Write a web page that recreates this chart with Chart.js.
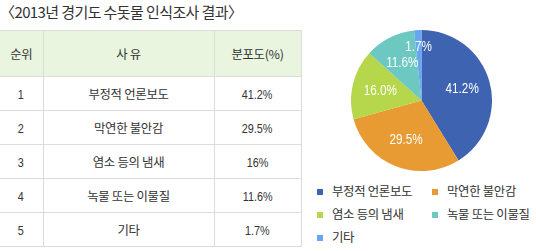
<!DOCTYPE html>
<html><head><meta charset="utf-8">
<script src="https://cdn.jsdelivr.net/npm/chart.js@4"></script>
<style>
html,body{margin:0;padding:0;background:#fff;}
#wrap{position:relative;width:536px;height:251px;overflow:hidden;font-family:"Noto Sans CJK KR","Noto Sans",sans-serif;color:#333;}
#title{position:absolute;left:0;top:3px;font-size:15px;line-height:18px;letter-spacing:-0.6px;color:#333;white-space:nowrap;}
table{position:absolute;left:0;top:30px;border-collapse:collapse;table-layout:fixed;width:301px;}
td,th{border:1px solid #dcdcdc;text-align:center;font-weight:normal;font-size:12.4px;padding:0;color:#333;letter-spacing:-0.3px;}
th{background:#eaf5e0;height:45px;}
td{height:33px;}
tr>*:first-child{border-left:none;}
.num span{display:inline-block;font-family:"Liberation Sans",sans-serif;font-size:13.5px;letter-spacing:0;transform:scaleX(0.8);}
#chartBox{position:absolute;left:351px;top:30px;width:141px;height:141px;}
#legend{position:absolute;left:317px;top:183px;width:219px;font-size:12.4px;letter-spacing:-0.3px;}
.li{position:absolute;white-space:nowrap;line-height:16px;}
.li i{display:inline-block;width:6px;height:6px;margin-right:9px;vertical-align:1px;}
</style></head>
<body><div id="wrap">
<div id="title">〈2013년 경기도 수돗물 인식조사 결과〉</div>
<table id="tbl"></table>
<div id="chartBox"><canvas id="c"></canvas></div>
<div id="legend"></div>
</div>
<script>
const headers = ["순위", "사 유", "분포도(%)"];
const ranks = [1, 2, 3, 4, 5];
const categories = ["부정적 언론보도", "막연한 불안감", "염소 등의 냄새", "녹물 또는 이물질", "기타"];
const tableValues = ["41.2%", "29.5%", "16%", "11.6%", "1.7%"];
const values = [41.2, 29.5, 16.0, 11.6, 1.7];
const colors = ["#3e63b1", "#e89b32", "#b6d64b", "#6cc8c1", "#67a6f1"];

// table
const tbl = document.getElementById('tbl');
const cg = document.createElement('colgroup');
[43, 171, 87].forEach(w => { const c = document.createElement('col'); c.style.width = w + 'px'; cg.appendChild(c); });
tbl.appendChild(cg);
const hr = document.createElement('tr');
headers.forEach(h => { const th = document.createElement('th'); th.textContent = h; hr.appendChild(th); });
tbl.appendChild(hr);
categories.forEach((cat, i) => {
  const tr = document.createElement('tr');
  [[ranks[i], true], [cat, false], [tableValues[i], true]].forEach(([t, isNum]) => {
    const td = document.createElement('td');
    if (isNum) { td.className = 'num'; const s = document.createElement('span'); s.textContent = t; td.appendChild(s); }
    else td.textContent = t;
    tr.appendChild(td);
  });
  tbl.appendChild(tr);
});

const labelPlugin = {
  id: 'sliceLabels',
  afterDatasetsDraw(chart) {
    const ctx = chart.ctx;
    const meta = chart.getDatasetMeta(0);
    meta.data.forEach((arc, i) => {
      const p = arc.getProps(['x', 'y', 'startAngle', 'endAngle', 'outerRadius'], true);
      const mid = (p.startAngle + p.endAngle) / 2;
      const r = p.outerRadius * (values[i] < 5 ? 0.76 : 0.6);
      const lx = p.x + Math.cos(mid) * r, ly = p.y + Math.sin(mid) * r;
      ctx.save();
      ctx.translate(lx, ly);
      ctx.scale(0.78, 1);
      ctx.fillStyle = '#fff';
      ctx.font = '15px "Liberation Sans",sans-serif';
      ctx.textAlign = 'center';
      ctx.textBaseline = 'middle';
      ctx.fillText(values[i].toFixed(1) + '%', 0, 0);
      ctx.restore();
    });
  }
};

const chart = new Chart(document.getElementById('c'), {
  type: 'pie',
  data: { labels: categories, datasets: [{ data: values, backgroundColor: colors, borderWidth: 0 }] },
  options: {
    responsive: true, maintainAspectRatio: false, animation: false,
    layout: { padding: 0 },
    plugins: { legend: { display: false }, tooltip: { enabled: false } }
  },
  plugins: [labelPlugin]
});

// legend built from chart
const lg = document.getElementById('legend');
const items = chart.options.plugins.legend.labels.generateLabels(chart);
const colX = [0, 115];
const rowY = [0, 23, 46];
items.forEach((it, i) => {
  const d = document.createElement('div');
  d.className = 'li';
  d.style.left = colX[i % 2] + 'px';
  d.style.top = rowY[Math.floor(i / 2)] + 'px';
  const sw = document.createElement('i'); sw.style.background = it.fillStyle;
  d.appendChild(sw);
  d.appendChild(document.createTextNode(it.text));
  lg.appendChild(d);
});
</script>
</body></html>
